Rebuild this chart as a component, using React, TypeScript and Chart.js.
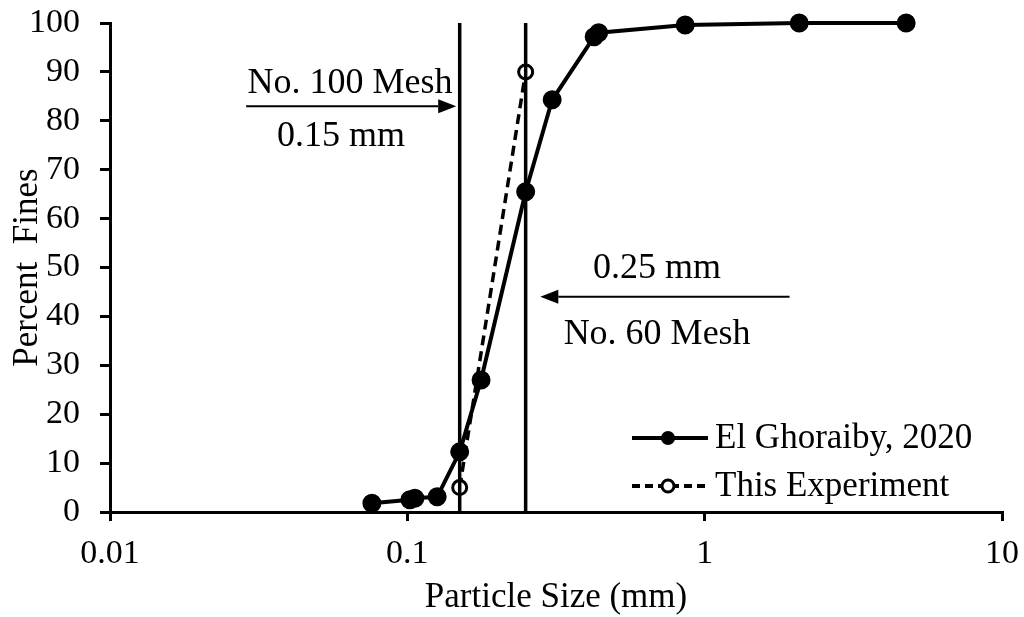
import React, { useEffect, useRef } from "react";
import { Chart, registerables } from "chart.js";

Chart.register(...registerables);

// ---- data ----
const ghoraibySizes = [0.076, 0.102, 0.106, 0.126, 0.15, 0.177, 0.25, 0.307, 0.425, 0.44, 0.86, 2.08, 4.76];
const ghoraibyFines = [1.8, 2.5, 2.8, 3.1, 12.3, 27.0, 65.5, 84.3, 97.2, 98.0, 99.6, 100, 100];
const expSizes = [0.15, 0.25];
const expFines = [5, 90];
const meshSizes = [0.15, 0.25];
const meshRange = [0, 100];
const xTickValues = [0.01, 0.1, 1, 10];

const annotTexts = ["No. 100 Mesh", "0.15 mm", "0.25 mm", "No. 60 Mesh"];
const annotX = [0.0642, 0.0598, 0.692, 0.692];
const annotY = [87.6, 76.8, 49.8, 36.3];
// arrows: from x to x at y
const arrowFrom = [0.0287, 1.93];
const arrowTo = [0.146, 0.28];
const arrowY = [83, 44];

const legendLabels = ["El Ghoraiby, 2020", "This Experiment"];

const FONT = "'Liberation Serif', 'Times New Roman', serif";

const overlayPlugin = {
  id: "overlay",
  afterDraw(chart: any) {
    const ctx = chart.ctx;
    const xs = chart.scales.x;
    const ys = chart.scales.y;
    ctx.save();
    ctx.fillStyle = "#000";
    ctx.strokeStyle = "#000";
    // annotation texts
    ctx.font = `36px ${FONT}`;
    ctx.textAlign = "center";
    ctx.textBaseline = "middle";
    annotTexts.forEach((t, i) => {
      ctx.fillText(t, xs.getPixelForValue(annotX[i]), ys.getPixelForValue(annotY[i]));
    });
    // arrows
    arrowFrom.forEach((f, i) => {
      const x0 = xs.getPixelForValue(f);
      const x1 = xs.getPixelForValue(arrowTo[i]);
      const y = ys.getPixelForValue(arrowY[i]);
      const dir = Math.sign(x1 - x0);
      const head = 18;
      ctx.lineWidth = 2;
      ctx.beginPath();
      ctx.moveTo(x0, y);
      ctx.lineTo(x1 - dir * head, y);
      ctx.stroke();
      ctx.beginPath();
      ctx.moveTo(x1, y);
      ctx.lineTo(x1 - dir * head, y - 7);
      ctx.lineTo(x1 - dir * head, y + 7);
      ctx.closePath();
      ctx.fill();
    });
    // legend
    const lx0 = 632, lx1 = 708, lm = 668, tx = 715;
    const rows = [438, 486];
    ctx.font = `35px ${FONT}`;
    ctx.textAlign = "left";
    ctx.textBaseline = "middle";
    rows.forEach((y, i) => {
      ctx.lineWidth = 4;
      ctx.setLineDash(i === 0 ? [] : [8, 5]);
      ctx.beginPath();
      ctx.moveTo(lx0, y);
      ctx.lineTo(lx1, y);
      ctx.stroke();
      ctx.setLineDash([]);
      ctx.beginPath();
      ctx.arc(lm, y, i === 0 ? 7 : 6, 0, Math.PI * 2);
      if (i === 0) {
        ctx.fill();
      } else {
        ctx.fillStyle = "#fff";
        ctx.fill();
        ctx.lineWidth = 3;
        ctx.stroke();
        ctx.fillStyle = "#000";
      }
      ctx.fillText(legendLabels[i], tx, y + 1);
    });
    ctx.restore();
  },
};

export default function App() {
  const ref = useRef<HTMLCanvasElement>(null);
  useEffect(() => {
    document.body.style.margin = "0";
    const canvas = ref.current!;
    const chart = new Chart(canvas, {
      type: "line",
      data: {
        datasets: [
          {
            label: "0.15 mm line",
            data: meshRange.map((y) => ({ x: meshSizes[0], y })),
            borderColor: "#000",
            borderWidth: 3.5,
            pointRadius: 0,
          },
          {
            label: "0.25 mm line",
            data: meshRange.map((y) => ({ x: meshSizes[1], y })),
            borderColor: "#000",
            borderWidth: 3.5,
            pointRadius: 0,
          },
          {
            label: legendLabels[1],
            data: expSizes.map((x, i) => ({ x, y: expFines[i] })),
            borderColor: "#000",
            borderWidth: 3.5,
            borderDash: [10, 6],
            pointRadius: 7,
            pointBorderWidth: 3,
            pointBackgroundColor: "#fff",
            pointBorderColor: "#000",
            clip: false,
          },
          {
            label: legendLabels[0],
            data: ghoraibySizes.map((x, i) => ({ x, y: ghoraibyFines[i] })),
            borderColor: "#000",
            borderWidth: 4,
            pointRadius: 7.5,
            pointBackgroundColor: "#000",
            pointBorderColor: "#000",
            clip: false,
          },
        ],
      },
      options: {
        responsive: false,
        animation: false,
        layout: { padding: { top: 23, right: 22, left: 0, bottom: 0 } },
        plugins: { legend: { display: false }, tooltip: { enabled: false } },
        scales: {
          x: {
            type: "logarithmic",
            min: 0.01,
            max: 10,
            afterBuildTicks: (scale: any) => {
              scale.ticks = xTickValues.map((v) => ({ value: v }));
            },
            afterFit: (scale: any) => {
              scale.height = 105;
              scale.paddingLeft = 0;
              scale.paddingRight = 0;
            },
            grid: { drawOnChartArea: false, drawTicks: true, tickLength: 9, color: "#000", lineWidth: 3 },
            border: { display: true, color: "#000", width: 3 },
            ticks: {
              color: "#000",
              font: { family: FONT, size: 34 },
              padding: 13,
              maxRotation: 0,
              autoSkip: false,
              callback: (v: any) => String(v),
            },
            title: {
              display: true,
              text: "Particle Size (mm)",
              color: "#000",
              font: { family: FONT, size: 35, lineHeight: 1.1 },
              padding: { top: 0, bottom: 0 },
            },
          },
          y: {
            min: 0,
            max: 100,
            afterFit: (scale: any) => {
              scale.width = 110;
              scale.paddingTop = 0;
              scale.paddingBottom = 0;
            },
            grid: { drawOnChartArea: false, drawTicks: true, tickLength: 10, color: "#000", lineWidth: 3 },
            border: { display: true, color: "#000", width: 3 },
            ticks: {
              stepSize: 10,
              color: "#000",
              font: { family: FONT, size: 34 },
              padding: 20,
            },
            title: {
              display: true,
              text: "Percent  Fines",
              color: "#000",
              font: { family: FONT, size: 35 },
              padding: { top: 7, bottom: 0 },
            },
          },
        },
      },
      plugins: [overlayPlugin],
    });
    return () => chart.destroy();
  }, []);
  return <canvas ref={ref} width={1024} height={617} style={{ display: "block" }} />;
}
